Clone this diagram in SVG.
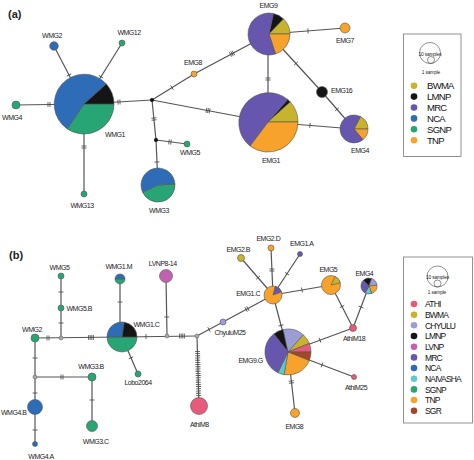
<svg xmlns="http://www.w3.org/2000/svg" xmlns:xlink="http://www.w3.org/1999/xlink" width="474" height="460" viewBox="0 0 474 460">
<style>
.bg{fill:#fff}
.ln{stroke:#555;stroke-width:1.2;fill:none}
.tk line{stroke:#444;stroke-width:0.8}
.pp{stroke:#555;stroke-width:0.6}
.bw{fill:#c8b42c}.lm{fill:#151515}.mr{fill:#6656ae}.nc{fill:#2e6cb8}.sg{fill:#27a574}.tn{fill:#f6a22b}
.at{fill:#e85a7c}.ch{fill:#9c9cd6}.lv{fill:#c062b0}.na{fill:#5ecaca}.sr{fill:#a3462a}
.jn{fill:#111}
.gn{fill:#aaa;stroke:#666;stroke-width:0.6}
.lb{font-family:"Liberation Sans",Arial,sans-serif;font-size:7px;letter-spacing:-0.5px;fill:#222;text-anchor:middle}
.ls{text-anchor:start}.le{text-anchor:end}
.pl{font-family:"Liberation Sans",Arial,sans-serif;font-size:11px;font-weight:bold;fill:#222}
.lg{fill:#fff;stroke:#777;stroke-width:0.8}
.sc{fill:none;stroke:#444;stroke-width:0.6}
.st{font-family:"Liberation Sans",Arial,sans-serif;font-size:4.8px;letter-spacing:-0.15px;fill:#222;text-anchor:middle}
.la{font-family:"Liberation Sans",Arial,sans-serif;font-size:9.5px;letter-spacing:-0.7px;fill:#111}
.lbb{font-family:"Liberation Sans",Arial,sans-serif;font-size:8.5px;letter-spacing:-0.8px;fill:#111}
.dash{stroke:#444;stroke-width:5;stroke-dasharray:0.8 1.4;fill:none}
</style>
<defs>
<g id="t1" class="tk"><line x1="0" y1="-2.5" x2="0" y2="2.5"/></g>
<g id="t2" class="tk"><line x1="-1" y1="-2.5" x2="-1" y2="2.5"/><line x1="1" y1="-2.5" x2="1" y2="2.5"/></g>
<g id="t3" class="tk"><line x1="-1.6" y1="-2.5" x2="-1.6" y2="2.5"/><line x1="0" y1="-2.5" x2="0" y2="2.5"/><line x1="1.6" y1="-2.5" x2="1.6" y2="2.5"/></g>
<g id="t4" class="tk"><line x1="-2.4" y1="-2.5" x2="-2.4" y2="2.5"/><line x1="-0.8" y1="-2.5" x2="-0.8" y2="2.5"/><line x1="0.8" y1="-2.5" x2="0.8" y2="2.5"/><line x1="2.4" y1="-2.5" x2="2.4" y2="2.5"/></g>
</defs>
<rect class="bg" x="0" y="0" width="474" height="460"/>
<text class="pl" x="8" y="18">(a)</text>
<text class="pl" x="9" y="259">(b)</text>

<g id="connectors">
<line class="ln" x1="54" y1="46" x2="84" y2="104"/>
<line class="ln" x1="122" y1="43" x2="84" y2="104"/>
<line class="ln" x1="16" y1="105" x2="84" y2="104"/>
<line class="ln" x1="84" y1="104" x2="84" y2="194"/>
<line class="ln" x1="84" y1="104" x2="152" y2="100"/>
<line class="ln" x1="152" y1="100" x2="156" y2="140"/>
<line class="ln" x1="156" y1="140" x2="187" y2="144"/>
<line class="ln" x1="156" y1="140" x2="158" y2="185"/>
<line class="ln" x1="152" y1="100" x2="194" y2="74"/>
<line class="ln" x1="194" y1="74" x2="269" y2="34"/>
<line class="ln" x1="152" y1="100" x2="268" y2="122"/>
<line class="ln" x1="269" y1="34" x2="345" y2="28"/>
<line class="ln" x1="268" y1="34" x2="268" y2="122"/>
<line class="ln" x1="269" y1="34" x2="322" y2="92"/>
<line class="ln" x1="322" y1="92" x2="354" y2="129"/>
<line class="ln" x1="268" y1="122" x2="354" y2="129"/>
<use xlink:href="#t1" transform="translate(69 75) rotate(62.6)"/>
<use xlink:href="#t1" transform="translate(101 76.7) rotate(-58)"/>
<use xlink:href="#t2" transform="translate(49 104.5)"/>
<use xlink:href="#t2" transform="translate(84 147) rotate(90)"/>
<use xlink:href="#t2" transform="translate(119 102) rotate(-3.4)"/>
<use xlink:href="#t2" transform="translate(154 119) rotate(84)"/>
<use xlink:href="#t2" transform="translate(170 142) rotate(7)"/>
<use xlink:href="#t1" transform="translate(157 162) rotate(87)"/>
<use xlink:href="#t1" transform="translate(172 87.6) rotate(-31.8)"/>
<use xlink:href="#t3" transform="translate(232 53.7) rotate(-28)"/>
<use xlink:href="#t3" transform="translate(208 110.6) rotate(10.7)"/>
<use xlink:href="#t1" transform="translate(308 30.9) rotate(-4.5)"/>
<use xlink:href="#t2" transform="translate(268 79) rotate(90)"/>
<use xlink:href="#t1" transform="translate(296 63.5) rotate(47.6)"/>
<use xlink:href="#t1" transform="translate(337 109.3) rotate(49)"/>
<use xlink:href="#t1" transform="translate(310 125.4) rotate(4.7)"/>
<line class="ln" x1="61" y1="276" x2="61" y2="338"/>
<line class="ln" x1="35" y1="338" x2="122" y2="337"/>
<line class="ln" x1="120" y1="279" x2="120" y2="337"/>
<line class="ln" x1="122" y1="337" x2="197" y2="336"/>
<line class="ln" x1="166" y1="276" x2="167" y2="336"/>
<line class="ln" x1="197" y1="336" x2="199" y2="406"/>
<path class="dash" d="M197.5 351 L198.7 396"/>
<line class="ln" x1="197" y1="336" x2="273" y2="295"/>
<line class="ln" x1="122" y1="337" x2="138" y2="374"/>
<line class="ln" x1="35" y1="338" x2="35" y2="444"/>
<line class="ln" x1="35" y1="377" x2="92" y2="377"/>
<line class="ln" x1="92" y1="377" x2="92" y2="426"/>
<line class="ln" x1="273" y1="295" x2="241" y2="258"/>
<line class="ln" x1="273" y1="295" x2="271" y2="248"/>
<line class="ln" x1="273" y1="295" x2="300" y2="254"/>
<line class="ln" x1="273" y1="295" x2="331" y2="285"/>
<line class="ln" x1="273" y1="295" x2="288" y2="352"/>
<line class="ln" x1="331" y1="285" x2="353" y2="328"/>
<line class="ln" x1="369" y1="286" x2="353" y2="328"/>
<line class="ln" x1="353" y1="328" x2="288" y2="352"/>
<line class="ln" x1="288" y1="352" x2="354" y2="377"/>
<line class="ln" x1="288" y1="352" x2="295" y2="413"/>
<use xlink:href="#t1" transform="translate(61 292) rotate(90)"/>
<use xlink:href="#t1" transform="translate(61 323) rotate(90)"/>
<use xlink:href="#t2" transform="translate(48 338)"/>
<use xlink:href="#t4" transform="translate(91 337.5)"/>
<use xlink:href="#t1" transform="translate(120 302) rotate(90)"/>
<use xlink:href="#t1" transform="translate(146 336.5)"/>
<use xlink:href="#t1" transform="translate(166.7 317) rotate(90)"/>
<use xlink:href="#t4" transform="translate(182 336)"/>
<use xlink:href="#t1" transform="translate(209 329.5) rotate(-28.3)"/>
<use xlink:href="#t2" transform="translate(247 309) rotate(-28.4)"/>
<use xlink:href="#t1" transform="translate(131 357.8) rotate(66.6)"/>
<use xlink:href="#t1" transform="translate(35 358) rotate(90)"/>
<use xlink:href="#t1" transform="translate(35 393) rotate(90)"/>
<use xlink:href="#t1" transform="translate(35 430) rotate(90)"/>
<use xlink:href="#t2" transform="translate(62 377)"/>
<use xlink:href="#t1" transform="translate(92 400) rotate(90)"/>
<use xlink:href="#t1" transform="translate(258 277.7) rotate(49)"/>
<use xlink:href="#t2" transform="translate(271.9 270) rotate(92.4)"/>
<use xlink:href="#t1" transform="translate(287 273.7) rotate(-56.6)"/>
<use xlink:href="#t1" transform="translate(302 290) rotate(-9.8)"/>
<use xlink:href="#t1" transform="translate(281 325.4) rotate(75.3)"/>
<use xlink:href="#t1" transform="translate(342 306.5) rotate(62.9)"/>
<use xlink:href="#t1" transform="translate(361 307) rotate(110.9)"/>
<use xlink:href="#t1" transform="translate(320 340.2) rotate(159.7)"/>
<use xlink:href="#t1" transform="translate(322 364.9) rotate(20.7)"/>
<use xlink:href="#t2" transform="translate(291.4 382) rotate(83.5)"/>
</g>

<g id="a-WMG1">
<path class="pp sg" d="M84 104 L114 104 A30 30 0 0 1 67.2 128.9 Z"/>
<path class="pp nc" d="M84 104 L67.2 128.9 A30 30 0 1 1 106.3 83.9 Z"/>
<path class="pp lm" d="M84 104 L106.3 83.9 A30 30 0 0 1 114 104 Z"/>
<text class="lb" x="115" y="136.5">WMG1</text>
</g>
<g id="a-WMG2"><circle class="pp nc" cx="54" cy="46" r="4.3"/><text class="lb" x="52" y="37.5">WMG2</text></g>
<g id="a-WMG12"><circle class="pp sg" cx="122" cy="43" r="3"/><text class="lb" x="129" y="35">WMG12</text></g>
<g id="a-WMG4"><circle class="pp sg" cx="16" cy="105" r="4"/><text class="lb" x="12" y="120">WMG4</text></g>
<g id="a-WMG13"><circle class="pp sg" cx="84" cy="194" r="3"/><text class="lb" x="82" y="208">WMG13</text></g>
<g id="a-J1"><circle class="jn" cx="152" cy="100" r="2"/></g>
<g id="a-J2"><circle class="jn" cx="156" cy="140" r="2"/></g>
<g id="a-WMG5"><circle class="pp sg" cx="187" cy="144" r="3"/><text class="lb" x="190" y="155">WMG5</text></g>
<g id="a-WMG3">
<path class="pp sg" d="M158 185 L175 184.1 A17 17 0 0 1 142.6 192.2 Z"/>
<path class="pp nc" d="M158 185 L142.6 192.2 A17 17 0 1 1 175 184.1 Z"/>
<text class="lb" x="159" y="213">WMG3</text>
</g>
<g id="a-EMG8"><circle class="pp tn" cx="194" cy="74" r="3"/><text class="lb" x="193" y="65">EMG8</text></g>
<g id="a-EMG9">
<path class="pp lm" d="M269 34 L273.4 13.5 A21 21 0 0 1 283.6 18.9 Z"/>
<path class="pp bw" d="M269 34 L283.6 18.9 A21 21 0 0 1 290 34 Z"/>
<path class="pp tn" d="M269 34 L290 34 A21 21 0 0 1 275.5 54 Z"/>
<path class="pp mr" d="M269 34 L275.5 54 A21 21 0 1 1 273.4 13.5 Z"/>
<text class="lb" x="268.5" y="8">EMG9</text>
</g>
<g id="a-EMG7"><circle class="pp tn" cx="345" cy="28" r="5"/><text class="lb" x="345" y="43">EMG7</text></g>
<g id="a-EMG16"><circle class="pp lm" cx="322" cy="92" r="5.5"/><text class="lb ls" x="331" y="93">EMG16</text></g>
<g id="a-EMG1">
<path class="pp lm" d="M268 122 L287.7 99.4 A30 30 0 0 1 290.3 101.9 Z"/>
<path class="pp bw" d="M268 122 L290.3 101.9 A30 30 0 0 1 298 122 Z"/>
<path class="pp tn" d="M268 122 L298 122 A30 30 0 0 1 249.9 146 Z"/>
<path class="pp mr" d="M268 122 L249.9 146 A30 30 0 1 1 287.7 99.4 Z"/>
<text class="lb" x="271" y="163">EMG1</text>
</g>
<g id="a-EMG4">
<path class="pp bw" d="M354 129 L360.6 116.6 A14 14 0 0 1 368 129 Z"/>
<path class="pp tn" d="M354 129 L368 129 A14 14 0 0 1 363 139.7 Z"/>
<path class="pp mr" d="M354 129 L363 139.7 A14 14 0 1 1 360.6 116.6 Z"/>
<text class="lb" x="360" y="153">EMG4</text>
</g>

<g id="a-legend">
<rect class="lg" x="403.5" y="34" width="57.5" height="122.5"/>
<circle class="sc" cx="430" cy="53" r="10.5"/>
<circle class="sc" cx="431" cy="60" r="3.5"/>
<text class="st" x="430" y="56">10 samples</text>
<text class="st" x="431" y="73.5">1 sample</text>
<circle class="bw" cx="414" cy="85.7" r="3.3"/><text class="la" x="427" y="89.2">BWMA</text>
<circle class="lm" cx="414" cy="96.6" r="3.3"/><text class="la" x="427" y="100.1">LMNP</text>
<circle class="mr" cx="414" cy="107.5" r="3.3"/><text class="la" x="427" y="111">MRC</text>
<circle class="nc" cx="414" cy="118.4" r="3.3"/><text class="la" x="427" y="121.9">NCA</text>
<circle class="sg" cx="414" cy="129.3" r="3.3"/><text class="la" x="427" y="132.8">SGNP</text>
<circle class="tn" cx="414" cy="140.2" r="3.3"/><text class="la" x="427" y="143.7">TNP</text>
</g>

<g id="b-WMG5"><circle class="pp sg" cx="61" cy="276" r="3"/><text class="lb" x="59.5" y="270">WMG5</text></g>
<g id="b-WMG5B"><circle class="pp sg" cx="61" cy="308" r="3"/><text class="lb ls" x="66.5" y="311">WMG5.B</text></g>
<g id="b-WMG2"><circle class="pp sg" cx="35" cy="338" r="4"/><text class="lb" x="32" y="332">WMG2</text></g>
<g id="b-N1"><circle class="gn" cx="61" cy="338" r="2"/></g>
<g id="b-N2"><circle class="gn" cx="167" cy="336" r="2"/></g>
<g id="b-N3"><circle class="gn" cx="197" cy="336" r="2"/></g>
<g id="b-N4"><circle class="gn" cx="35" cy="377" r="2"/></g>
<g id="b-WMG1M">
<path class="pp nc" d="M115 279 A5 5 0 0 1 125 279 Z"/>
<path class="pp sg" d="M125 279 A5 5 0 0 1 115 279 Z"/>
<text class="lb" x="118.7" y="269">WMG1.M</text>
</g>
<g id="b-WMG1C">
<path class="pp sg" d="M122 337 L137 337 A15 15 0 0 1 107 337 Z"/>
<path class="pp nc" d="M122 337 L107 337 A15 15 0 0 1 124.3 322.2 Z"/>
<path class="pp lm" d="M122 337 L124.3 322.2 A15 15 0 0 1 137 337 Z"/>
<text class="lb ls" x="133.5" y="327">WMG1.C</text>
</g>
<g id="b-LVNP8-14"><circle class="pp lv" cx="166" cy="276" r="6.5"/><text class="lb" x="162.7" y="266">LVNP8-14</text></g>
<g id="b-Lobo2064"><circle class="pp sg" cx="138" cy="374" r="3"/><text class="lb" x="138" y="385">Lobo2064</text></g>
<g id="b-WMG3B"><circle class="pp sg" cx="92" cy="377" r="4"/><text class="lb" x="91" y="369">WMG3.B</text></g>
<g id="b-WMG3C"><circle class="pp sg" cx="92" cy="426" r="5.5"/><text class="lb" x="95.7" y="444">WMG3.C</text></g>
<g id="b-WMG4B"><circle class="pp nc" cx="35" cy="407" r="7.5"/><text class="lb ls" x="1" y="415">WMG4.B</text></g>
<g id="b-WMG4A"><circle class="pp nc" cx="35" cy="444" r="2.5"/><text class="lb" x="41" y="459">WMG4.A</text></g>
<g id="b-AthiM8"><circle class="pp at" cx="199" cy="406" r="8.5"/><text class="lb" x="199.3" y="426.5">AthiM8</text></g>
<g id="b-ChyuluM25"><circle class="pp ch" cx="223" cy="322" r="3"/><text class="lb" x="230" y="335">ChyuluM25</text></g>
<g id="b-EMG1C">
<circle class="pp tn" cx="273" cy="295" r="9"/>
<path class="pp mr" d="M273 295 L275.3 286.3 A9 9 0 0 1 281.5 291.9 Z"/>
<text class="lb le" x="260" y="295.5">EMG1.C</text>
</g>
<g id="b-EMG2B"><circle class="pp bw" cx="241" cy="258" r="3.5"/><text class="lb" x="238.3" y="251.5">EMG2.B</text></g>
<g id="b-EMG2D"><circle class="pp tn" cx="271" cy="248" r="3"/><text class="lb" x="268.3" y="240.5">EMG2.D</text></g>
<g id="b-EMG1A"><circle class="pp mr" cx="300" cy="254" r="2.5"/><text class="lb" x="301.7" y="246">EMG1.A</text></g>
<g id="b-EMG5">
<circle class="pp tn" cx="331" cy="285" r="9.5"/>
<path class="pp bw" d="M331 285 L335.2 276.5 A9.5 9.5 0 0 1 340.3 283 Z"/>
<text class="lb" x="328.3" y="272">EMG5</text>
</g>
<g id="b-EMG4">
<path class="pp lm" d="M369 286 L363.3 280.3 A8 8 0 0 1 371.7 278.5 Z"/>
<path class="pp ch" d="M369 286 L371.7 278.5 A8 8 0 0 1 377 285.3 Z"/>
<path class="pp tn" d="M369 286 L377 285.3 A8 8 0 0 1 371.7 293.5 Z"/>
<path class="pp na" d="M369 286 L371.7 293.5 A8 8 0 0 1 365 292.9 Z"/>
<path class="pp mr" d="M369 286 L365 292.9 A8 8 0 0 1 363.3 280.3 Z"/>
<text class="lb" x="364.3" y="275.5">EMG4</text>
</g>
<g id="b-AthiM18"><circle class="pp at" cx="353" cy="328" r="3.5"/><text class="lb" x="354" y="341">AthiM18</text></g>
<g id="b-EMG9G">
<path class="pp lm" d="M288 352 L273.8 333.9 A23 23 0 0 1 283.2 329.5 Z"/>
<path class="pp ch" d="M288 352 L283.2 329.5 A23 23 0 0 1 303.4 334.9 Z"/>
<path class="pp bw" d="M288 352 L303.4 334.9 A23 23 0 0 1 309.3 343.4 Z"/>
<path class="pp at" d="M288 352 L309.3 343.4 A23 23 0 0 1 311 352 Z"/>
<path class="pp sr" d="M288 352 L311 352 A23 23 0 0 1 309.3 360.6 Z"/>
<path class="pp tn" d="M288 352 L309.3 360.6 A23 23 0 0 1 284 374.7 Z"/>
<path class="pp na" d="M288 352 L284 374.7 A23 23 0 0 1 277.9 372.7 Z"/>
<path class="pp mr" d="M288 352 L277.9 372.7 A23 23 0 0 1 273.8 333.9 Z"/>
<text class="lb le" x="262.7" y="362.5">EMG9.G</text>
</g>
<g id="b-AthiM25"><circle class="pp at" cx="354" cy="377" r="2.5"/><text class="lb" x="356" y="390">AthiM25</text></g>
<g id="b-EMG8"><circle class="pp tn" cx="295" cy="413" r="4.5"/><text class="lb" x="294.3" y="428.5">EMG8</text></g>

<g id="b-legend">
<rect class="lg" x="403.5" y="257" width="69" height="166"/>
<circle class="sc" cx="437.5" cy="276.5" r="10.5"/>
<circle class="sc" cx="437.5" cy="283.5" r="3.5"/>
<text class="st" x="437.5" y="279">10 samples</text>
<text class="st" x="437" y="293.5">1 sample</text>
<circle class="at" cx="414" cy="304" r="3.3"/><text class="lbb" x="425" y="307.2">ATHI</text>
<circle class="bw" cx="414" cy="314.7" r="3.3"/><text class="lbb" x="425" y="317.9">BWMA</text>
<circle class="ch" cx="414" cy="325.3" r="3.3"/><text class="lbb" x="425" y="328.5">CHYULU</text>
<circle class="lm" cx="414" cy="336" r="3.3"/><text class="lbb" x="425" y="339.2">LMNP</text>
<circle class="lv" cx="414" cy="346.7" r="3.3"/><text class="lbb" x="425" y="349.9">LVNP</text>
<circle class="mr" cx="414" cy="357.4" r="3.3"/><text class="lbb" x="425" y="360.6">MRC</text>
<circle class="nc" cx="414" cy="368" r="3.3"/><text class="lbb" x="425" y="371.2">NCA</text>
<circle class="na" cx="414" cy="378.7" r="3.3"/><text class="lbb" x="425" y="381.9">NAIVASHA</text>
<circle class="sg" cx="414" cy="389.4" r="3.3"/><text class="lbb" x="425" y="392.6">SGNP</text>
<circle class="tn" cx="414" cy="400" r="3.3"/><text class="lbb" x="425" y="403.2">TNP</text>
<circle class="sr" cx="414" cy="410.7" r="3.3"/><text class="lbb" x="425" y="413.9">SGR</text>
</g>
</svg>
